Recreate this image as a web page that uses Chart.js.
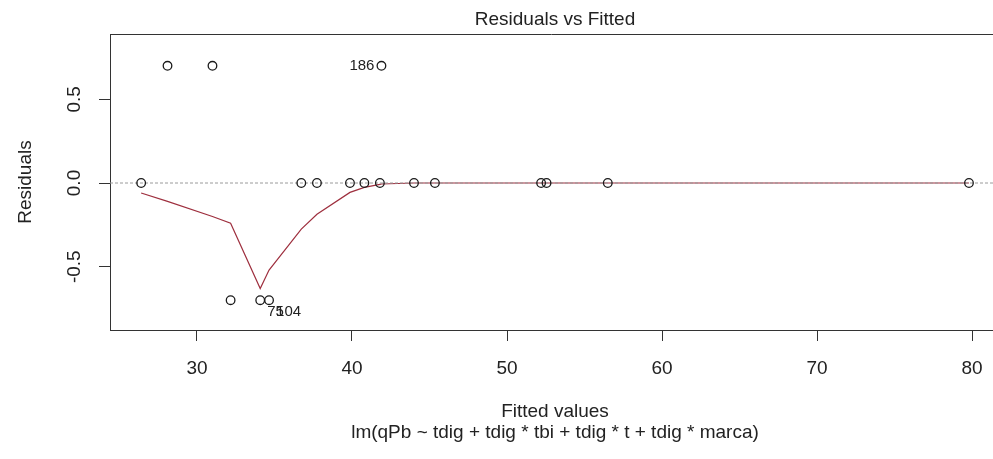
<html lang="pt-br">
<head>
    <meta charset="UTF-8">
    <title>Residuals vs Fitted</title>
    <script src="https://cdn.jsdelivr.net/npm/chart.js"></script>
    <style>
        body { margin: 0; background: #fff; overflow: hidden; }
        #grafico { display: block; }
    </style>
</head>
<body>
    <canvas id="grafico" width="993" height="459"></canvas>

<script>
    // valores
    const fitted = [26.4, 28.1, 31.0, 41.9, 32.17, 34.08, 34.65, 36.73, 37.74, 39.87, 40.8, 41.8, 44.0, 45.35, 52.2, 52.55, 56.5, 79.8];
    const residuals = [0, 0.70, 0.70, 0.70, -0.70, -0.70, -0.70, 0, 0, 0, 0, 0, 0, 0, 0, 0, 0, 0];

    // curva suavizada (lowess)
    const smoothX = [26.4, 28.1, 31.0, 32.17, 34.08, 34.65, 36.73, 37.74, 39.87, 40.8, 41.8, 41.9, 44.0, 45.35, 52.2, 52.55, 56.5, 79.8];
    const smoothY = [-0.06, -0.11, -0.20, -0.24, -0.63, -0.52, -0.275, -0.187, -0.056, -0.026, -0.008, -0.006, 0, 0, 0, 0, 0, 0];

    // pontos identificados
    const idIndex = [3, 5, 6];
    const idLabels = ['186', '75', '104'];

    const xTicks = [30, 40, 50, 60, 70, 80];
    const yTicks = [-0.5, 0.0, 0.5];
    const yTickLabels = ['-0.5', '0.0', '0.5'];
    const xMin = 24.39, xMax = 81.35;
    const yMin = -0.878, yMax = 0.89;

    const titulo = 'Residuals vs Fitted';
    const tituloX = 'Fitted values';
    const subtitulo = 'lm(qPb ~ tdig + tdig * tbi + tdig * t + tdig * marca)';
    const tituloY = 'Residuals';

    const fonte = 'Liberation Sans, Arial, sans-serif';

    const textos = {
        id: 'textos',
        afterDraw(chart) {
            const ctx = chart.ctx;
            const ca = chart.chartArea;
            const sx = chart.scales.x, sy = chart.scales.y;
            const cx = (ca.left + 1000) / 2;
            ctx.save();
            // caixa: linha de cima
            ctx.strokeStyle = '#333';
            ctx.lineWidth = 1;
            ctx.beginPath();
            ctx.moveTo(ca.left, Math.round(ca.top) + 0.5);
            ctx.lineTo(ca.right, Math.round(ca.top) + 0.5);
            ctx.stroke();

            ctx.fillStyle = '#222';
            ctx.textAlign = 'center';
            ctx.textBaseline = 'middle';
            ctx.font = '19px ' + fonte;
            ctx.fillText(titulo, cx, 20);
            ctx.fillText(tituloX, cx, 412);
            ctx.fillText(subtitulo, cx, 433);

            // labels do eixo y, girados
            yTicks.forEach((v, i) => {
                ctx.save();
                ctx.translate(75, sy.getPixelForValue(v));
                ctx.rotate(-Math.PI / 2);
                ctx.fillText(yTickLabels[i], 0, 0);
                ctx.restore();
            });
            ctx.save();
            ctx.translate(26, (ca.top + ca.bottom) / 2);
            ctx.rotate(-Math.PI / 2);
            ctx.fillText(tituloY, 0, 0);
            ctx.restore();

            // ids dos pontos
            ctx.font = '15px ' + fonte;
            idIndex.forEach((k, i) => {
                const px = sx.getPixelForValue(fitted[k]);
                const py = sy.getPixelForValue(residuals[k]);
                if (residuals[k] > 0) {
                    ctx.textAlign = 'right';
                    ctx.fillText(idLabels[i], px - 7, py);
                } else {
                    ctx.textAlign = 'left';
                    ctx.fillText(idLabels[i], px + 7, py + 12);
                }
            });
            ctx.restore();
        }
    };

    const grafico = new Chart(document.getElementById('grafico'), {
        type: 'scatter',
        data: {
            datasets: [{
                label: 'residuos',
                data: fitted.map((x, i) => ({ x: x, y: residuals[i] })),
                pointStyle: 'circle',
                pointRadius: 4.3,
                pointBorderWidth: 1.3,
                pointBorderColor: '#1a1a1a',
                pointBackgroundColor: 'rgba(0,0,0,0)',
                order: 1
            }, {
                type: 'line',
                label: 'zero',
                data: [{ x: xMin, y: 0 }, { x: xMax, y: 0 }],
                borderColor: '#9a9a9a',
                borderWidth: 1,
                borderDash: [3, 2],
                pointRadius: 0,
                order: 2
            }, {
                type: 'line',
                label: 'lowess',
                data: smoothX.map((x, i) => ({ x: x, y: smoothY[i] })),
                borderColor: '#9e2f3e',
                borderWidth: 1.2,
                pointRadius: 0,
                tension: 0,
                order: 3
            }]
        },
        options: {
            responsive: false,
            animation: false,
            devicePixelRatio: 1,
            // sem autoPadding: a caixa do R vai ate a borda direita
            layout: { autoPadding: false, padding: { top: 34, right: 0, left: 0, bottom: 0 } },
            plugins: {
                legend: { display: false },
                tooltip: { enabled: false }
            },
            scales: {
                x: {
                    type: 'linear',
                    min: xMin,
                    max: xMax,
                    afterBuildTicks: s => { s.ticks = xTicks.map(v => ({ value: v })); },
                    afterFit: s => { s.height = 129; s.paddingRight = 0; s.paddingLeft = 0; },
                    grid: { drawOnChartArea: false, drawTicks: true, tickLength: 11, color: '#333' },
                    border: { display: true, color: '#333', width: 1 },
                    ticks: { color: '#222', padding: 16, font: { family: fonte, size: 19 }, maxRotation: 0 }
                },
                y: {
                    type: 'linear',
                    min: yMin,
                    max: yMax,
                    afterBuildTicks: s => { s.ticks = yTicks.map(v => ({ value: v })); },
                    afterFit: s => { s.width = 110; s.paddingTop = 0; s.paddingBottom = 0; },
                    grid: { drawOnChartArea: false, drawTicks: true, tickLength: 11, color: '#333' },
                    border: { display: true, color: '#333', width: 1 },
                    ticks: { display: false }
                }
            }
        },
        plugins: [textos]
    });
</script>
</body>
</html>
